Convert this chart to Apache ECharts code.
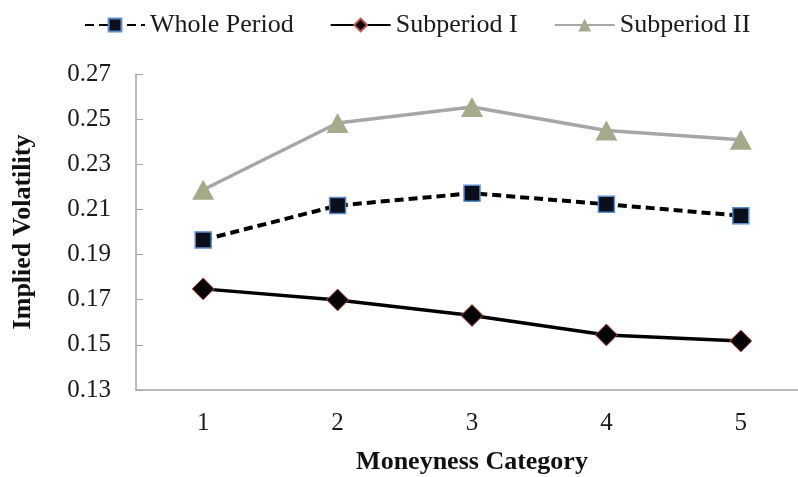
<!DOCTYPE html>
<html>
<head>
<meta charset="utf-8">
<script src="https://cdn.jsdelivr.net/npm/echarts@6/dist/echarts.min.js"></script>
<style>
  html, body { margin: 0; padding: 0; background: #ffffff; }
  #chart { width: 798px; height: 477px; }
</style>
</head>
<body>
<div id="chart"></div>
<script>
// Moneyness categories on the horizontal axis
var categories = ['1', '2', '3', '4', '5'];

// Average implied volatility per moneyness category
var wholePeriod = [0.1965, 0.2117, 0.2172, 0.2123, 0.2072];
var subperiodI  = [0.1748, 0.1699, 0.1630, 0.1544, 0.1517];
var subperiodII = [0.2187, 0.2483, 0.2554, 0.2450, 0.2409];

// Labelled values on the volatility axis
var yTicks = [0.13, 0.15, 0.17, 0.19, 0.21, 0.23, 0.25, 0.27];

var serif = '"Liberation Serif", "Times New Roman", serif';
var axisGray = '#a6a6a6';

var chart = echarts.init(document.getElementById('chart'), null, { renderer: 'canvas' });

chart.setOption({
  backgroundColor: '#ffffff',
  animation: false,
  legend: {
    left: 79,
    top: 7,
    itemWidth: 60,
    itemHeight: 16,
    itemGap: 36,
    textStyle: { fontFamily: serif, fontSize: 26, color: '#1a1a1a' },
    data: ['Whole Period', 'Subperiod I', 'Subperiod II']
  },
  // the plot area runs a little past the right edge of the canvas
  grid: {
    left: 136, width: 672, top: 74, bottom: 87,
    containLabel: false,
    outerBoundsMode: 'none'
  },
  xAxis: {
    type: 'category',
    data: categories,
    boundaryGap: true,
    name: 'Moneyness Category',
    nameLocation: 'middle',
    nameGap: 59,
    nameTextStyle: { fontFamily: serif, fontSize: 26, fontWeight: 'bold', color: '#111' },
    axisLine: { lineStyle: { color: axisGray, width: 1.5 } },
    axisTick: { inside: true, length: 7, lineStyle: { color: axisGray, width: 1 } },
    axisLabel: { fontFamily: serif, fontSize: 25, color: '#1a1a1a', margin: 21 },
    splitLine: { show: false }
  },
  yAxis: {
    type: 'value',
    min: yTicks[0],
    max: yTicks[yTicks.length - 1],
    name: 'Implied Volatility',
    nameLocation: 'middle',
    nameRotate: 90,
    nameGap: 100,
    nameTextStyle: { fontFamily: serif, fontSize: 26, fontWeight: 'bold', color: '#111' },
    axisLine: { show: true, lineStyle: { color: axisGray, width: 1.5 } },
    axisTick: { show: true, inside: true, length: 7, customValues: yTicks, lineStyle: { color: axisGray, width: 1 } },
    axisLabel: {
      fontFamily: serif, fontSize: 25, color: '#1a1a1a', margin: 25,
      customValues: yTicks,
      formatter: function (v) { return v.toFixed(2); }
    },
    splitLine: { show: false }
  },
  series: [
    {
      name: 'Whole Period',
      type: 'line',
      data: wholePeriod,
      symbol: 'rect',
      symbolSize: 16,
      z: 3,
      lineStyle: { color: '#000000', width: 4, type: [9, 5] },
      itemStyle: { color: '#0b0f1c', borderColor: '#5b8ccc', borderWidth: 1.5 }
    },
    {
      name: 'Subperiod I',
      type: 'line',
      data: subperiodI,
      symbol: 'diamond',
      symbolSize: 22,
      z: 3,
      lineStyle: { color: '#000000', width: 3.5 },
      itemStyle: { color: '#050505', borderColor: '#c0504d', borderWidth: 1 }
    },
    {
      name: 'Subperiod II',
      type: 'line',
      data: subperiodII,
      symbol: 'triangle',
      symbolSize: [22, 20],
      z: 2,
      lineStyle: { color: '#a6a6a6', width: 3.5 },
      itemStyle: { color: '#a3ab8a', borderWidth: 0 }
    }
  ]
});
</script>
</body>
</html>
